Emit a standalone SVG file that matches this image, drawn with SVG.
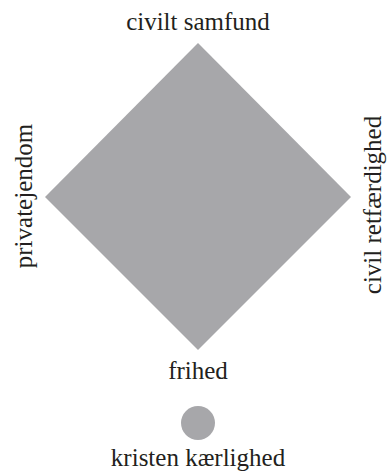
<svg xmlns="http://www.w3.org/2000/svg" width="390" height="471" viewBox="0 0 390 471">
<style>
.lbl{font-family:"Liberation Serif","Times New Roman",serif;font-size:25px;fill:#231f20;text-anchor:middle}
.shape{fill:#a7a7aa}
</style>
<rect width="390" height="471" fill="#ffffff"/>
<g id="diamond"><polygon class="shape" points="198,43 351,197 198,350 45,197"/></g>
<g id="circle"><circle class="shape" cx="198" cy="423" r="17"/></g>
<g id="connectors"></g>
<g id="top"><text class="lbl" x="198" y="30">civilt samfund</text></g>
<g id="left"><text class="lbl" transform="translate(32,196) rotate(-90)">privatejendom</text></g>
<g id="right"><text class="lbl" transform="translate(381,205) rotate(-90)">civil retfærdighed</text></g>
<g id="bottom"><text class="lbl" x="198" y="379">frihed</text></g>
<g id="love"><text class="lbl" x="198" y="466">kristen kærlighed</text></g>
</svg>
